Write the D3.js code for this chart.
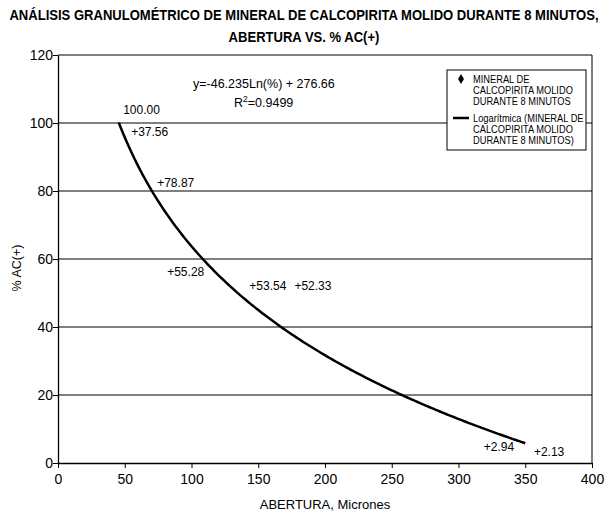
<!DOCTYPE html>
<html><head><meta charset="utf-8">
<script src="https://cdn.jsdelivr.net/npm/d3@7"></script>
<style>body{margin:0;background:#fff}svg{display:block}</style>
</head><body>
<svg id="c" width="608" height="515"></svg>
<script>
// Data
const titleLines = ["ANÁLISIS GRANULOMÉTRICO DE MINERAL DE CALCOPIRITA MOLIDO DURANTE 8 MINUTOS,", "ABERTURA VS. % AC(+)"];
const xTicks = [0, 50, 100, 150, 200, 250, 300, 350, 400];
const yTicks = [0, 20, 40, 60, 80, 100, 120];
const labelTexts = ["100.00", "+37.56", "+78.87", "+55.28", "+53.54", "+52.33", "+2.94", "+2.13"];
const labelX = [48.8, 54.8, 74.3, 81.8, 143.3, 177.1, 318.9, 356.5];
const labelY = [103.8, 97.3, 82.3, 56.3, 52.2, 52.2, 4.7, 3.2];
// Logarithmic trendline y = a*ln(x) + b over the fitted range
const trendA = -46.235, trendB = 276.66;
const trendXMin = 45.5, trendXMax = 350;
const equationText = "y=-46.235Ln(%) + 276.66";
const r2Text = "0.9499";
const legendSeries = ["MINERAL DE", "CALCOPIRITA MOLIDO", "DURANTE 8 MINUTOS"];
const legendTrend = ["Logarítmica (MINERAL DE", "CALCOPIRITA MOLIDO", "DURANTE 8 MINUTOS)"];

const svg = d3.select("#c");
const L = 58, R = 592, T = 55, B = 463;
const x = d3.scaleLinear().domain([0, 400]).range([L, R]);
const y = d3.scaleLinear().domain([0, 120]).range([B, T]);
const font = "'Liberation Sans', Arial, sans-serif";

// title (horizontally condensed to emulate a narrow face)
titleLines.forEach((t, i) => {
  const g = svg.append("g").attr("transform", `translate(304,${20 + i * 22}) scale(0.9,1)`);
  g.append("text").attr("x", 0).attr("y", 0).attr("text-anchor", "middle")
    .attr("font-family", font).attr("font-weight", "bold").attr("font-size", 14.5).text(t);
});

// gridlines
svg.append("g").selectAll("line").data(yTicks.filter(v => v > 0)).enter().append("line")
  .attr("x1", L).attr("x2", R).attr("y1", d => y(d)).attr("y2", d => y(d))
  .attr("stroke", "#000").attr("stroke-width", 1);
svg.append("line").attr("x1", R).attr("x2", R).attr("y1", T).attr("y2", B).attr("stroke", "#000");

// axes
const xAxis = svg.append("g").attr("transform", `translate(0,${B})`)
  .call(d3.axisBottom(x).tickValues(xTicks).tickSize(5).tickSizeOuter(0));
const yAxis = svg.append("g").attr("transform", `translate(${L},0)`)
  .call(d3.axisLeft(y).tickValues(yTicks).tickSize(5).tickSizeOuter(0));
[xAxis, yAxis].forEach(g => {
  g.selectAll("path").attr("stroke", "#000").attr("stroke-width", 1.3);
  g.selectAll("line").attr("stroke", "#000");
  g.selectAll("text").attr("font-family", font).attr("font-size", 14).attr("fill", "#000");
});
xAxis.selectAll("text").attr("dy", "0.9em");
yAxis.selectAll("text").attr("x", -5);

// axis titles
svg.append("text").attr("x", 325).attr("y", 509).attr("text-anchor", "middle")
  .attr("font-family", font).attr("font-size", 13).text("ABERTURA, Micrones");
svg.append("text").attr("transform", "translate(21,268) rotate(-90)").attr("text-anchor", "middle")
  .attr("font-family", font).attr("font-size", 12.5).text("% AC(+)");

// trendline
const steps = d3.range(0, 201).map(i => trendXMin + (trendXMax - trendXMin) * i / 200);
const line = d3.line().x(d => x(d)).y(d => y(trendA * Math.log(d) + trendB));
svg.append("path").datum(steps).attr("d", line).attr("fill", "none")
  .attr("stroke", "#000").attr("stroke-width", 2.5);

// data labels
svg.append("g").selectAll("text").data(labelTexts).enter().append("text")
  .attr("x", (d, i) => x(labelX[i])).attr("y", (d, i) => y(labelY[i]))
  .attr("dy", "0.35em").attr("font-family", font).attr("font-size", 12).text(d => d);

// equation
svg.append("text").attr("x", 193).attr("y", 88).attr("font-family", font).attr("font-size", 12.5).text(equationText);
const r2 = svg.append("text").attr("x", 234).attr("y", 107).attr("font-family", font).attr("font-size", 12.5);
r2.append("tspan").text("R");
r2.append("tspan").attr("dy", -5).attr("font-size", 8.5).text("2");
r2.append("tspan").attr("dy", 5).text("=" + r2Text);

// legend
const lg = svg.append("g");
lg.append("rect").attr("x", 447).attr("y", 70).attr("width", 139).attr("height", 80)
  .attr("fill", "#fff").attr("stroke", "#000");
lg.append("path").attr("d", d3.symbol().type(d3.symbolDiamond).size(30)())
  .attr("transform", "translate(461,79)").attr("fill", "#000");
lg.append("line").attr("x1", 453).attr("x2", 469).attr("y1", 118).attr("y2", 118)
  .attr("stroke", "#000").attr("stroke-width", 2.5);
const lgText = lg.append("g").attr("transform", "translate(473,0) scale(0.86,1)");
lgText.selectAll("text.s").data(legendSeries).enter().append("text")
  .attr("x", 0).attr("y", (d, i) => 79 + i * 11).attr("dy", "0.35em")
  .attr("font-family", font).attr("font-size", 10.8).text(d => d);
lgText.selectAll("text.t").data(legendTrend).enter().append("text")
  .attr("x", 0).attr("y", (d, i) => 118 + i * 11).attr("dy", "0.35em")
  .attr("font-family", font).attr("font-size", 10.8).text(d => d);
</script>
</body></html>
